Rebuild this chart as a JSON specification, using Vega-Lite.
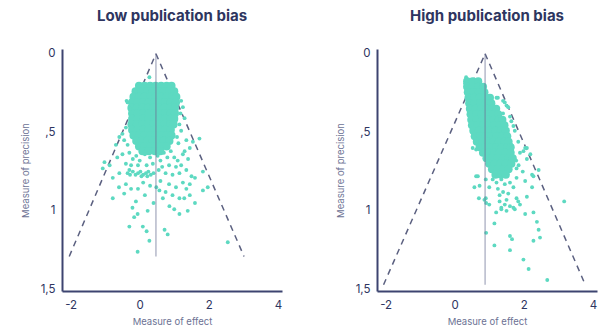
{
"$schema": "https://vega.github.io/schema/vega-lite/v6.json",
"padding": {"left": 20, "top": 8, "right": 4, "bottom": 4},
"spacing": 53,
"datasets": {
"lowLines": [{"g":"l","x":0.47,"y":0},{"g":"l","x":-2.04,"y":1.29},{"g":"r","x":0.47,"y":0},{"g":"r","x":3.02,"y":1.29}],
"highLines": [{"g":"l","x":0.88,"y":0},{"g":"l","x":-2.06,"y":1.47},{"g":"r","x":0.88,"y":0},{"g":"r","x":3.78,"y":1.47}],
"lowAxis": [{"x":0.47,"y":0,"y2":1.29}],
"highAxis": [{"x":0.88,"y":0,"y2":1.47}],
"lowCore": [
{"x":-0.02,"y":0.205},{"x":0.14,"y":0.205},{"x":0.30,"y":0.205},{"x":0.46,"y":0.205},{"x":0.62,"y":0.205},{"x":0.78,"y":0.205},{"x":0.92,"y":0.205},
{"x":-0.12,"y":0.24},{"x":0.06,"y":0.24},{"x":0.22,"y":0.24},{"x":0.38,"y":0.24},{"x":0.54,"y":0.24},{"x":0.70,"y":0.24},{"x":0.86,"y":0.24},{"x":1.0,"y":0.24},
{"x":-0.18,"y":0.275},{"x":-0.02,"y":0.275},{"x":0.14,"y":0.275},{"x":0.30,"y":0.275},{"x":0.46,"y":0.275},{"x":0.62,"y":0.275},{"x":0.78,"y":0.275},{"x":0.94,"y":0.275},{"x":1.06,"y":0.275},
{"x":-0.22,"y":0.31},{"x":-0.06,"y":0.31},{"x":0.10,"y":0.31},{"x":0.26,"y":0.31},{"x":0.42,"y":0.31},{"x":0.58,"y":0.31},{"x":0.74,"y":0.31},{"x":0.90,"y":0.31},{"x":1.05,"y":0.31},
{"x":-0.24,"y":0.345},{"x":-0.08,"y":0.345},{"x":0.08,"y":0.345},{"x":0.24,"y":0.345},{"x":0.40,"y":0.345},{"x":0.56,"y":0.345},{"x":0.72,"y":0.345},{"x":0.88,"y":0.345},{"x":1.02,"y":0.345},
{"x":-0.22,"y":0.38},{"x":-0.06,"y":0.38},{"x":0.10,"y":0.38},{"x":0.26,"y":0.38},{"x":0.42,"y":0.38},{"x":0.58,"y":0.38},{"x":0.74,"y":0.38},{"x":0.90,"y":0.38},{"x":1.02,"y":0.38},
{"x":-0.22,"y":0.415},{"x":-0.06,"y":0.415},{"x":0.10,"y":0.415},{"x":0.26,"y":0.415},{"x":0.42,"y":0.415},{"x":0.58,"y":0.415},{"x":0.74,"y":0.415},{"x":0.90,"y":0.415},{"x":1.0,"y":0.415},
{"x":-0.24,"y":0.45},{"x":-0.08,"y":0.45},{"x":0.08,"y":0.45},{"x":0.24,"y":0.45},{"x":0.40,"y":0.45},{"x":0.56,"y":0.45},{"x":0.72,"y":0.45},{"x":0.88,"y":0.45},{"x":0.98,"y":0.45},
{"x":-0.22,"y":0.485},{"x":-0.06,"y":0.485},{"x":0.10,"y":0.485},{"x":0.26,"y":0.485},{"x":0.42,"y":0.485},{"x":0.58,"y":0.485},{"x":0.74,"y":0.485},{"x":0.90,"y":0.485},
{"x":-0.18,"y":0.52},{"x":-0.02,"y":0.52},{"x":0.14,"y":0.52},{"x":0.30,"y":0.52},{"x":0.46,"y":0.52},{"x":0.62,"y":0.52},{"x":0.78,"y":0.52},{"x":0.92,"y":0.52},
{"x":-0.10,"y":0.555},{"x":0.06,"y":0.555},{"x":0.22,"y":0.555},{"x":0.38,"y":0.555},{"x":0.54,"y":0.555},{"x":0.70,"y":0.555},{"x":0.86,"y":0.555},
{"x":-0.02,"y":0.59},{"x":0.14,"y":0.59},{"x":0.30,"y":0.59},{"x":0.46,"y":0.59},{"x":0.62,"y":0.59},{"x":0.78,"y":0.59},
{"x":0.08,"y":0.62},{"x":0.26,"y":0.62},{"x":0.44,"y":0.62},{"x":0.60,"y":0.62}
],
"lowPts": [
{"x":0.28,"y":0.15},{"x":-0.35,"y":0.31},{"x":-0.28,"y":0.35},{"x":-0.38,"y":0.30},
{"x":1.2,"y":0.30},{"x":1.25,"y":0.34},{"x":1.3,"y":0.41},{"x":1.18,"y":0.38},{"x":1.15,"y":0.45},{"x":1.2,"y":0.49},{"x":1.08,"y":0.53},{"x":1.12,"y":0.57},
{"x":-0.59,"y":0.53},{"x":-0.5,"y":0.51},{"x":-0.69,"y":0.58},{"x":-0.4,"y":0.47},{"x":-0.45,"y":0.55},{"x":-0.35,"y":0.58},
{"x":1.73,"y":0.54},{"x":1.54,"y":0.56},{"x":1.45,"y":0.60},{"x":1.25,"y":0.64},{"x":1.35,"y":0.55},{"x":1.3,"y":0.62},{"x":1.4,"y":0.67},
{"x":-1.02,"y":0.69},{"x":-0.87,"y":0.71},{"x":-1.07,"y":0.73},{"x":-0.59,"y":0.76},{"x":-0.78,"y":0.79},{"x":-0.65,"y":0.66},{"x":-0.5,"y":0.64},{"x":-0.3,"y":0.63},{"x":-0.2,"y":0.67},{"x":-0.4,"y":0.70},
{"x":-0.35,"y":0.76},{"x":-0.28,"y":0.77},{"x":-0.2,"y":0.75},{"x":-0.12,"y":0.77},{"x":-0.05,"y":0.76},{"x":0.02,"y":0.75},{"x":0.1,"y":0.77},{"x":0.18,"y":0.76},{"x":0.25,"y":0.75},{"x":0.32,"y":0.77},{"x":0.4,"y":0.76},{"x":-0.3,"y":0.74},{"x":0.05,"y":0.78},{"x":0.22,"y":0.78},
{"x":-0.1,"y":0.65},{"x":0.0,"y":0.68},{"x":0.15,"y":0.64},{"x":0.3,"y":0.66},{"x":0.38,"y":0.70},{"x":0.52,"y":0.65},{"x":0.6,"y":0.68},{"x":0.7,"y":0.63},{"x":0.8,"y":0.66},{"x":0.9,"y":0.62},{"x":1.0,"y":0.66},{"x":1.1,"y":0.68},{"x":0.65,"y":0.72},{"x":0.85,"y":0.71},{"x":1.05,"y":0.72},{"x":1.2,"y":0.71},{"x":0.55,"y":0.74},{"x":0.75,"y":0.76},{"x":0.95,"y":0.77},{"x":1.15,"y":0.76},{"x":1.35,"y":0.74},{"x":-0.05,"y":0.71},{"x":0.2,"y":0.71},{"x":-0.25,"y":0.71},
{"x":1.6,"y":0.79},{"x":1.83,"y":0.75},{"x":1.5,"y":0.78},{"x":1.45,"y":0.83},
{"x":-0.4,"y":0.83},{"x":-0.25,"y":0.86},{"x":-0.45,"y":0.89},{"x":-0.78,"y":0.92},{"x":-0.11,"y":0.94},{"x":-0.21,"y":0.98},{"x":-0.16,"y":1.04},{"x":-0.06,"y":1.02},{"x":0.23,"y":1.0},{"x":-0.3,"y":1.10},{"x":0.09,"y":1.10},{"x":0.2,"y":1.13},{"x":0.28,"y":1.19},{"x":-0.06,"y":1.26},{"x":0.72,"y":1.12},{"x":0.81,"y":1.15},{"x":2.55,"y":1.20},
{"x":0.67,"y":0.92},{"x":0.86,"y":0.97},{"x":1.0,"y":0.99},{"x":1.39,"y":1.0},{"x":1.15,"y":0.92},{"x":1.29,"y":0.92},{"x":1.45,"y":0.90},{"x":1.83,"y":0.87},{"x":1.97,"y":0.85},{"x":0.57,"y":0.87},{"x":0.48,"y":0.85},{"x":0.1,"y":0.82},{"x":0.3,"y":0.84},{"x":0.6,"y":0.81},{"x":0.85,"y":0.83},{"x":1.05,"y":0.85},{"x":1.25,"y":0.82},{"x":-0.05,"y":0.86},{"x":0.15,"y":0.90},{"x":0.95,"y":0.90},{"x":1.6,"y":0.95},{"x":0.4,"y":0.95},{"x":-0.6,"y":0.85},{"x":1.35,"y":0.86},{"x":0.75,"y":0.88},{"x":1.15,"y":1.02}
],
"highCore": [
{"x":0.36,"y":0.175},{"x":0.52,"y":0.175},{"x":0.68,"y":0.175},
{"x":0.36,"y":0.21},{"x":0.52,"y":0.21},{"x":0.68,"y":0.21},{"x":0.82,"y":0.21},
{"x":0.38,"y":0.245},{"x":0.54,"y":0.245},{"x":0.70,"y":0.245},{"x":0.86,"y":0.245},
{"x":0.40,"y":0.28},{"x":0.56,"y":0.28},{"x":0.72,"y":0.28},{"x":0.88,"y":0.28},{"x":1.02,"y":0.28},
{"x":0.42,"y":0.315},{"x":0.58,"y":0.315},{"x":0.74,"y":0.315},{"x":0.90,"y":0.315},{"x":1.06,"y":0.315},
{"x":0.44,"y":0.35},{"x":0.60,"y":0.35},{"x":0.76,"y":0.35},{"x":0.92,"y":0.35},{"x":1.08,"y":0.35},{"x":1.2,"y":0.35},
{"x":0.46,"y":0.385},{"x":0.62,"y":0.385},{"x":0.78,"y":0.385},{"x":0.94,"y":0.385},{"x":1.10,"y":0.385},{"x":1.26,"y":0.385},
{"x":0.48,"y":0.42},{"x":0.64,"y":0.42},{"x":0.80,"y":0.42},{"x":0.96,"y":0.42},{"x":1.12,"y":0.42},{"x":1.28,"y":0.42},{"x":1.38,"y":0.42},
{"x":0.50,"y":0.455},{"x":0.66,"y":0.455},{"x":0.82,"y":0.455},{"x":0.98,"y":0.455},{"x":1.14,"y":0.455},{"x":1.30,"y":0.455},{"x":1.44,"y":0.455},
{"x":0.54,"y":0.49},{"x":0.70,"y":0.49},{"x":0.86,"y":0.49},{"x":1.02,"y":0.49},{"x":1.18,"y":0.49},{"x":1.34,"y":0.49},{"x":1.48,"y":0.49},
{"x":0.58,"y":0.525},{"x":0.74,"y":0.525},{"x":0.90,"y":0.525},{"x":1.06,"y":0.525},{"x":1.22,"y":0.525},{"x":1.38,"y":0.525},{"x":1.52,"y":0.525},
{"x":0.64,"y":0.56},{"x":0.80,"y":0.56},{"x":0.96,"y":0.56},{"x":1.12,"y":0.56},{"x":1.28,"y":0.56},{"x":1.44,"y":0.56},{"x":1.56,"y":0.56},
{"x":0.72,"y":0.595},{"x":0.88,"y":0.595},{"x":1.04,"y":0.595},{"x":1.20,"y":0.595},{"x":1.36,"y":0.595},{"x":1.52,"y":0.595},{"x":1.62,"y":0.595},
{"x":0.82,"y":0.63},{"x":0.98,"y":0.63},{"x":1.14,"y":0.63},{"x":1.30,"y":0.63},{"x":1.46,"y":0.63},{"x":1.62,"y":0.63},
{"x":0.92,"y":0.665},{"x":1.08,"y":0.665},{"x":1.24,"y":0.665},{"x":1.40,"y":0.665},{"x":1.56,"y":0.665},{"x":1.68,"y":0.665},
{"x":1.00,"y":0.70},{"x":1.16,"y":0.70},{"x":1.32,"y":0.70},{"x":1.48,"y":0.70},{"x":1.64,"y":0.70},
{"x":1.08,"y":0.735},{"x":1.24,"y":0.735},{"x":1.40,"y":0.735},{"x":1.56,"y":0.735},
{"x":1.18,"y":0.77},{"x":1.34,"y":0.77},{"x":1.48,"y":0.77}
],
"highPts": [
{"x":0.33,"y":0.15},{"x":0.3,"y":0.19},{"x":0.38,"y":0.28},
{"x":1.25,"y":0.28},{"x":1.45,"y":0.31},{"x":1.55,"y":0.34},{"x":1.4,"y":0.38},{"x":1.64,"y":0.43},{"x":1.74,"y":0.49},{"x":1.84,"y":0.56},{"x":2.04,"y":0.60},{"x":1.89,"y":0.63},{"x":2.09,"y":0.67},{"x":2.43,"y":0.74},{"x":2.24,"y":0.77},{"x":1.97,"y":0.75},{"x":1.79,"y":0.79},{"x":1.21,"y":0.28},{"x":1.4,"y":0.30},{"x":1.5,"y":0.33},{"x":1.6,"y":0.40},{"x":1.7,"y":0.46},{"x":1.64,"y":0.58},{"x":1.99,"y":0.62},{"x":2.09,"y":0.60},{"x":2.19,"y":0.64},{"x":1.79,"y":0.73},{"x":2.28,"y":0.78},{"x":2.04,"y":0.81},{"x":1.7,"y":0.85},{"x":2.24,"y":0.85},{"x":1.78,"y":0.68},{"x":1.85,"y":0.71},
{"x":0.52,"y":0.60},{"x":0.62,"y":0.61},{"x":0.67,"y":0.78},{"x":0.72,"y":0.84},{"x":0.57,"y":0.85},{"x":1.0,"y":0.85},{"x":1.21,"y":0.82},{"x":1.45,"y":0.83},{"x":1.4,"y":0.88},{"x":1.55,"y":0.89},{"x":1.79,"y":0.92},{"x":1.89,"y":0.96},{"x":1.7,"y":0.98},{"x":1.35,"y":0.98},{"x":0.9,"y":0.92},{"x":1.0,"y":0.96},{"x":3.17,"y":0.94},{"x":0.7,"y":0.92},{"x":0.62,"y":0.78},{"x":0.86,"y":0.93},{"x":1.3,"y":0.90},{"x":1.45,"y":0.96},{"x":1.84,"y":0.94},{"x":2.09,"y":0.91},{"x":1.1,"y":0.80},{"x":1.25,"y":0.86},{"x":1.6,"y":0.82},{"x":1.35,"y":0.80},{"x":0.9,"y":0.80},{"x":1.5,"y":0.93},{"x":1.6,"y":0.97},{"x":1.3,"y":0.94},
{"x":2.28,"y":1.01},{"x":2.38,"y":1.07},{"x":2.43,"y":1.12},{"x":1.15,"y":1.08},{"x":0.91,"y":1.14},{"x":1.6,"y":1.16},{"x":1.66,"y":1.18},{"x":2.28,"y":1.19},{"x":2.47,"y":1.17},{"x":1.15,"y":1.22},{"x":1.6,"y":1.25},{"x":1.99,"y":1.31},{"x":2.14,"y":1.37},{"x":2.68,"y":1.44},{"x":1.35,"y":0.99},{"x":1.5,"y":1.0},{"x":1.74,"y":0.99},{"x":1.2,"y":1.01},{"x":2.04,"y":1.02},{"x":0.91,"y":0.95}
]
},
"hconcat": [
{
"width": 220, "height": 242,
"title": {"text": "Low publication bias"},
"encoding": {
"x": {"field": "x", "type": "quantitative", "scale": {"domain": [-2.25, 4.12], "nice": false, "zero": false}, "axis": {"title": "Measure of effect", "values": [-2, 0, 2, 4], "labelExpr": "datum.value == -2 ? '-2' : datum.label"}},
"y": {"field": "y", "type": "quantitative", "scale": {"domain": [-0.03, 1.51], "reverse": true, "nice": false, "zero": false}, "axis": {"title": "Measure of precision", "values": [0, 0.5, 1, 1.5], "labelExpr": "datum.value == 0 ? '0' : datum.value == 0.5 ? ',5' : datum.value == 1 ? '1' : '1,5'"}}
},
"layer": [
{"data": {"name": "lowLines"}, "mark": {"type": "line", "strokeDash": [6, 5], "color": "#5b6080", "strokeWidth": 1.5}, "encoding": {"detail": {"field": "g"}}},
{"data": {"name": "lowCore"}, "mark": {"type": "circle", "size": 66, "opacity": 1, "color": "#5dd9c1"}},
{"data": {"name": "lowPts"}, "mark": {"type": "circle", "size": 15, "opacity": 1, "color": "#5dd9c1"}},
{"data": {"name": "lowAxis"}, "mark": {"type": "rule", "color": "#6b7195", "opacity": 0.5, "strokeWidth": 1.5}, "encoding": {"y2": {"field": "y2"}}}
]
},
{
"width": 220, "height": 242,
"title": {"text": "High publication bias"},
"encoding": {
"x": {"field": "x", "type": "quantitative", "scale": {"domain": [-2.25, 4.12], "nice": false, "zero": false}, "axis": {"title": "Measure of effect", "values": [-2, 0, 2, 4], "labelExpr": "datum.value == -2 ? '-2' : datum.label"}},
"y": {"field": "y", "type": "quantitative", "scale": {"domain": [-0.03, 1.51], "reverse": true, "nice": false, "zero": false}, "axis": {"title": "Measure of precision", "values": [0, 0.5, 1, 1.5], "labelExpr": "datum.value == 0 ? '0' : datum.value == 0.5 ? ',5' : datum.value == 1 ? '1' : '1,5'"}}
},
"layer": [
{"data": {"name": "highLines"}, "mark": {"type": "line", "strokeDash": [6, 5], "color": "#5b6080", "strokeWidth": 1.5}, "encoding": {"detail": {"field": "g"}}},
{"data": {"name": "highCore"}, "mark": {"type": "circle", "size": 66, "opacity": 1, "color": "#5dd9c1"}},
{"data": {"name": "highPts"}, "mark": {"type": "circle", "size": 15, "opacity": 1, "color": "#5dd9c1"}},
{"data": {"name": "highAxis"}, "mark": {"type": "rule", "color": "#6b7195", "opacity": 0.5, "strokeWidth": 1.5}, "encoding": {"y2": {"field": "y2"}}}
]
}
],
"config": {
"view": {"stroke": null},
"font": "Inter",
"title": {"fontSize": 15, "fontWeight": "bold", "color": "#2e3560", "offset": 24, "anchor": "middle", "frame": "group", "font": "Inter"},
"axis": {"grid": false, "ticks": false, "domainColor": "#3d4470", "domainWidth": 2, "labelColor": "#2e3560", "labelFontSize": 11.5, "labelFont": "Inter", "titleColor": "#6c7294", "titleFontSize": 9.5, "titleFontWeight": "normal", "titleFont": "Inter"},
"axisY": {"labelPadding": 7, "titlePadding": 10},
"axisX": {"labelPadding": 8, "titlePadding": 6}
}
}
